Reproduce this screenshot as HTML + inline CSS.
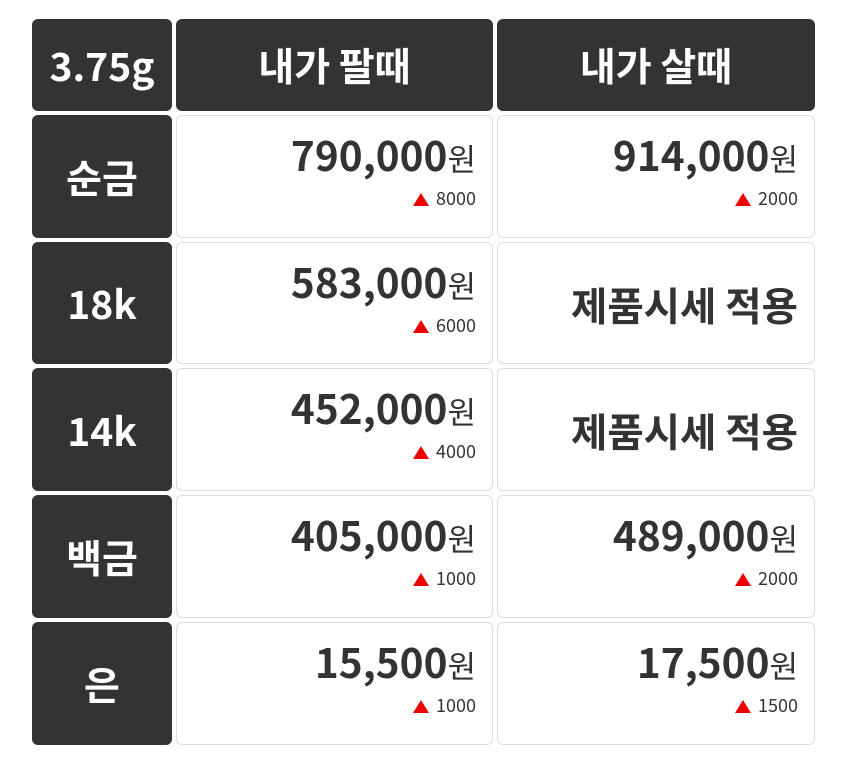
<!DOCTYPE html>
<html><head><meta charset="utf-8"><style>
body{margin:0;width:845px;height:765px;background:#fff;position:relative;font-family:"Liberation Sans","Noto Sans CJK KR",sans-serif;overflow:hidden}
.c{position:absolute;box-sizing:border-box;border-radius:6px}
.d{background:#333;color:#fff;font-weight:bold;font-size:39px;display:flex;align-items:center;justify-content:center;font-family:"Noto Sans CJK KR",sans-serif}
.w{background:#fff;border:1px solid #ddd;color:#333;font-family:"Noto Sans CJK KR",sans-serif}
.n{position:absolute;right:16px;top:8px;font-size:40.5px;font-weight:bold;line-height:60px;white-space:nowrap}
.n span{font-size:31px;font-weight:normal}
.s{position:absolute;right:16px;top:70px;font-size:18px;line-height:24px;color:#333}
.s i{display:inline-block;width:0;height:0;border-left:8px solid transparent;border-right:8px solid transparent;border-bottom:13px solid #e00;margin-right:7px;vertical-align:-1px}
.t{position:absolute;right:16px;top:32px;font-size:39.5px;font-weight:bold;line-height:60px;white-space:nowrap}
</style></head><body>
<div class="c d" style="left:32px;top:19px;width:140px;height:92px">3.75g</div>
<div class="c d" style="left:176px;top:19px;width:317px;height:92px">내가 팔때</div>
<div class="c d" style="left:497px;top:19px;width:318px;height:92px">내가 살때</div>

<div class="c d" style="left:32px;top:115px;width:140px;height:123px">순금</div>
<div class="c w" style="left:176px;top:115px;width:317px;height:123px"><div class="n">790,000<span>원</span></div><div class="s"><i></i>8000</div></div>
<div class="c w" style="left:497px;top:115px;width:318px;height:123px"><div class="n">914,000<span>원</span></div><div class="s"><i></i>2000</div></div>

<div class="c d" style="left:32px;top:242px;width:140px;height:122px">18k</div>
<div class="c w" style="left:176px;top:242px;width:317px;height:122px"><div class="n">583,000<span>원</span></div><div class="s"><i></i>6000</div></div>
<div class="c w" style="left:497px;top:242px;width:318px;height:122px"><div class="t">제품시세 적용</div></div>

<div class="c d" style="left:32px;top:368px;width:140px;height:123px">14k</div>
<div class="c w" style="left:176px;top:368px;width:317px;height:123px"><div class="n">452,000<span>원</span></div><div class="s"><i></i>4000</div></div>
<div class="c w" style="left:497px;top:368px;width:318px;height:123px"><div class="t">제품시세 적용</div></div>

<div class="c d" style="left:32px;top:495px;width:140px;height:123px">백금</div>
<div class="c w" style="left:176px;top:495px;width:317px;height:123px"><div class="n">405,000<span>원</span></div><div class="s"><i></i>1000</div></div>
<div class="c w" style="left:497px;top:495px;width:318px;height:123px"><div class="n">489,000<span>원</span></div><div class="s"><i></i>2000</div></div>

<div class="c d" style="left:32px;top:622px;width:140px;height:123px">은</div>
<div class="c w" style="left:176px;top:622px;width:317px;height:123px"><div class="n">15,500<span>원</span></div><div class="s"><i></i>1000</div></div>
<div class="c w" style="left:497px;top:622px;width:318px;height:123px"><div class="n">17,500<span>원</span></div><div class="s"><i></i>1500</div></div>
</body></html>
